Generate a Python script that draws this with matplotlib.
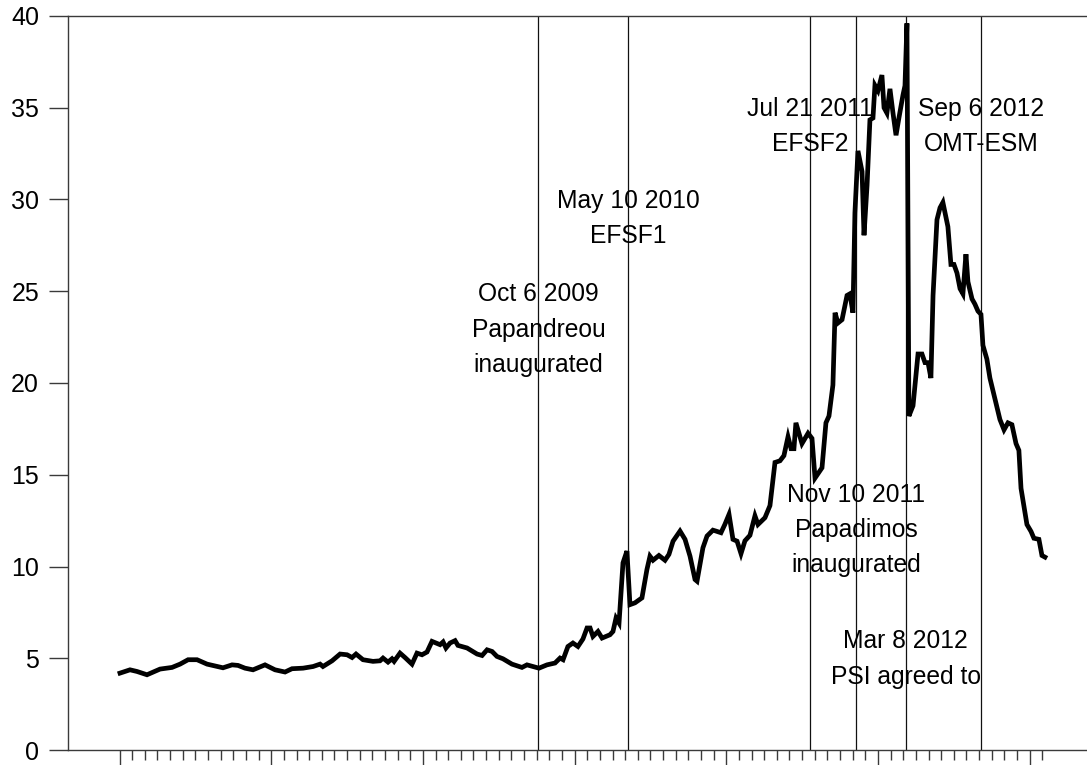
import numpy as np
import matplotlib
matplotlib.use("Agg")
import matplotlib.pyplot as plt
from matplotlib.ticker import FixedLocator, NullFormatter

plt.rcParams['font.family'] = ['Liberation Sans', 'DejaVu Sans']

# Time in decimal years, yield in percent (Greek 10y government bond)
years = [
    2007.003, 2007.069, 2007.115, 2007.181, 2007.267, 2007.346, 2007.399, 2007.452, 2007.511, 2007.577,
    2007.682, 2007.742, 2007.781, 2007.827, 2007.880, 2007.959, 2008.025, 2008.091, 2008.137, 2008.210,
    2008.276, 2008.322, 2008.341, 2008.401, 2008.454, 2008.500, 2008.533, 2008.559, 2008.605, 2008.671,
    2008.717, 2008.737, 2008.770, 2008.796, 2008.810, 2008.849, 2008.882, 2008.928, 2008.961, 2008.994,
    2009.027, 2009.060, 2009.086, 2009.113, 2009.133, 2009.152, 2009.179, 2009.212, 2009.231, 2009.291,
    2009.357, 2009.390, 2009.423, 2009.456, 2009.488, 2009.528, 2009.587, 2009.653, 2009.686, 2009.726,
    2009.765, 2009.818, 2009.871, 2009.904, 2009.924, 2009.956, 2009.989, 2010.022, 2010.055, 2010.082,
    2010.102, 2010.121, 2010.154, 2010.181, 2010.233, 2010.253, 2010.273, 2010.293, 2010.319, 2010.345,
    2010.365, 2010.398, 2010.444, 2010.477, 2010.497, 2010.517, 2010.556, 2010.596, 2010.622, 2010.649,
    2010.695, 2010.728, 2010.761, 2010.794, 2010.807, 2010.846, 2010.873, 2010.912, 2010.932, 2010.965,
    2010.991, 2011.018, 2011.044, 2011.071, 2011.097, 2011.123, 2011.156, 2011.189, 2011.209, 2011.255,
    2011.288, 2011.321, 2011.354, 2011.380, 2011.407, 2011.427, 2011.446, 2011.459, 2011.499, 2011.539,
    2011.565, 2011.585, 2011.631, 2011.657, 2011.677, 2011.703, 2011.717, 2011.736, 2011.763, 2011.796,
    2011.815, 2011.835, 2011.848, 2011.868, 2011.895, 2011.908, 2011.928, 2011.947, 2011.967, 2011.980,
    2012.000, 2012.026, 2012.040, 2012.059, 2012.079, 2012.099, 2012.119, 2012.138, 2012.165, 2012.178,
    2012.191, 2012.204, 2012.231, 2012.264, 2012.290, 2012.310, 2012.330, 2012.349, 2012.363, 2012.389,
    2012.409, 2012.428, 2012.461, 2012.481, 2012.501, 2012.521, 2012.541, 2012.560, 2012.580, 2012.593,
    2012.620, 2012.639, 2012.659, 2012.679, 2012.692, 2012.718, 2012.738, 2012.771, 2012.804, 2012.831,
    2012.857, 2012.883, 2012.910, 2012.929, 2012.943, 2012.982, 2013.009, 2013.028, 2013.061, 2013.081,
    2013.101,
]
yields = [
    4.19, 4.37, 4.28, 4.10, 4.41, 4.50, 4.68, 4.92, 4.92, 4.68,
    4.48, 4.64, 4.61, 4.46, 4.37, 4.64, 4.37, 4.25, 4.43, 4.46,
    4.55, 4.68, 4.55, 4.86, 5.23, 5.19, 5.04, 5.23, 4.92, 4.83,
    4.86, 5.01, 4.79, 4.97, 4.83, 5.28, 5.04, 4.68, 5.28, 5.19,
    5.34, 5.92, 5.83, 5.74, 5.89, 5.56, 5.83, 5.96, 5.70, 5.56,
    5.23, 5.15, 5.46, 5.37, 5.10, 4.97, 4.68, 4.50, 4.64, 4.55,
    4.46, 4.64, 4.74, 5.01, 4.92, 5.64, 5.83, 5.64, 6.05, 6.65,
    6.65, 6.19, 6.46, 6.10, 6.28, 6.46, 7.19, 6.92, 10.20, 10.84,
    7.92, 8.02, 8.29, 9.84, 10.56, 10.34, 10.60, 10.34, 10.66, 11.38,
    11.93, 11.48, 10.56, 9.29, 9.20, 11.02, 11.66, 11.98, 11.93, 11.84,
    12.30, 12.84, 11.48, 11.38, 10.70, 11.40, 11.70, 12.76, 12.29, 12.66,
    13.32, 15.67, 15.76, 16.04, 17.07, 16.42, 16.42, 17.83, 16.70, 17.26,
    16.98, 14.82, 15.38, 17.83, 18.20, 19.89, 23.83, 23.27, 23.45, 24.77,
    24.86, 23.83, 29.27, 32.65, 31.53, 28.05, 30.77, 34.34, 34.44, 36.22,
    35.93, 36.78, 35.00, 34.71, 36.03, 34.71, 33.50, 34.44, 35.70, 36.20,
    39.60, 18.20, 18.76, 21.58, 21.58, 21.11, 21.11, 20.27, 24.77, 28.90,
    29.55, 29.84, 28.52, 26.46, 26.46, 25.99, 25.14, 24.86, 27.02, 25.52,
    24.58, 24.30, 23.92, 23.74, 22.05, 21.30, 20.27, 19.14, 18.01, 17.45,
    17.83, 17.73, 16.70, 16.33, 14.26, 12.29, 11.91, 11.54, 11.48, 10.60,
    10.51,
]

# Events: decimal-year date, label
event_dates = [2009.762, 2010.353, 2011.551, 2011.858, 2012.183, 2012.680]
event_labels = [
    "Oct 6 2009\nPapandreou\ninaugurated",
    "May 10 2010\nEFSF1",
    "Jul 21 2011\nEFSF2",
    "Nov 10 2011\nPapadimos\ninaugurated",
    "Mar 8 2012\nPSI agreed to",
    "Sep 6 2012\nOMT-ESM",
]
label_heights = [22.9, 28.96, 33.98, 11.99, 4.96, 33.98]

y_ticks = [0, 5, 10, 15, 20, 25, 30, 35, 40]
year_ticks = [2007, 2008, 2009, 2010, 2011, 2012, 2013]
month_ticks = [2007 + m / 12 for m in range(0, 6 * 12 + 2)]

fig = plt.figure(figsize=(10.87, 7.65), dpi=100)
ax = fig.add_axes([0.0621, 0.0196, 0.9379, 0.9595])

axis_color = '#3a3a3a'
for d in event_dates:
    ax.axvline(d, color='#111111', linewidth=0.9, zorder=1)

ax.plot(years, yields, color='black', linewidth=3.4, solid_joinstyle='miter', zorder=3)

for d, lab, h in zip(event_dates, event_labels, label_heights):
    ax.text(d, h, lab, ha='center', va='center', fontsize=17.7,
            linespacing=1.6, color='black', zorder=4)

ax.set_xlim(2006.657, 2013.378)
ax.set_ylim(0, 40)

ax.spines['right'].set_visible(False)
for s in ['left', 'bottom', 'top']:
    ax.spines[s].set_color(axis_color)
    ax.spines[s].set_linewidth(1.0)

ax.set_yticks(y_ticks)
ax.set_yticklabels([str(v) for v in y_ticks])
ax.tick_params(axis='y', direction='out', length=14, width=1.0, color=axis_color,
               labelsize=18, pad=6.5)

ax.xaxis.set_major_locator(FixedLocator(year_ticks))
ax.xaxis.set_minor_locator(FixedLocator(month_ticks))
ax.xaxis.set_major_formatter(NullFormatter())
ax.tick_params(axis='x', which='major', direction='out', length=16, width=1.0, color=axis_color)
ax.tick_params(axis='x', which='minor', direction='out', length=7, width=1.0, color=axis_color)
ax.tick_params(axis='x', top=False)

fig.savefig('out.png', dpi=100)
